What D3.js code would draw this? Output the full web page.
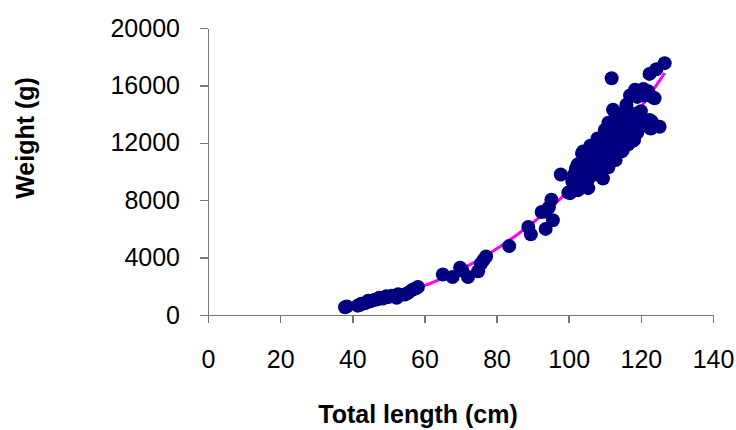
<html>
	<head>
		<script src="https://cdnjs.cloudflare.com/ajax/libs/d3/7.8.5/d3.min.js"></script>
		<style>
            body {
                margin: 0;
                background: white;
            }

            svg {
                font-family: "Liberation Sans", Arial, sans-serif;
            }

            .axis path, .axis line {
                stroke: #777;
                stroke-width: 1.5px;
                shape-rendering: crispEdges;
            }

            .axis text {
                font-size: 25px;
                fill: black;
            }

            .title {
                font-size: 25px;
                font-weight: bold;
                fill: black;
            }
		</style>
	</head>
	<body>
		<script type='text/javascript'>
            // fish total length (cm) and weight (g)
            var lengthCm = [
                38.0, 38.5, 41.5, 42.0, 42.5, 43.5, 44.4, 45.0, 46.0, 47.0, 47.5, 48.5, 49.4, 50.0, 51.0,
                52.3, 52.7, 53.5, 54.6, 55.5, 56.6, 57.5, 58.2,
                65.1, 67.8, 69.9, 70.5, 72.1, 74.9, 75.6, 76.3, 77.1,
                83.5, 88.8, 89.5, 92.5, 93.6, 93.4, 95.2, 95.6, 94.5,
                97.8, 99.9, 100.4, 102.6, 102.7, 103.7, 105.1, 105.4, 109.5,
                101.0, 101.5, 102.0, 102.0, 102.5, 103.0, 103.0, 103.5, 104.0, 104.0, 104.5, 105.0, 105.0, 105.5,
                106.0, 106.0, 106.5, 107.0, 107.0, 107.5, 108.0, 108.0, 108.0, 108.5, 109.0, 109.0, 109.5,
                110.0, 110.0, 110.0, 110.5, 111.0, 111.0, 111.5, 111.5, 112.0, 112.0, 112.0, 112.5, 112.5,
                113.0, 113.0, 113.5, 113.5, 114.0, 114.0, 114.0, 114.5, 114.5, 115.0, 115.0, 115.0, 115.5,
                116.0, 116.0, 116.0, 116.5, 117.0, 117.0, 117.0, 117.5, 118.0, 118.0, 118.5, 118.4, 119.0, 119.0,
                120.0, 120.7, 121.0, 122.0, 123.0, 123.8, 112.3, 116.0, 114.7, 118.1, 118.9, 122.4, 122.8, 125.2,
                122.5, 123.0, 122.4, 124.3, 126.6, 111.9,
                106.0, 108.0, 110.0, 111.0, 113.0, 111.0, 113.0, 115.0, 116.5, 117.5, 119.0, 119.5, 120.0
            ];
            var weightG = [
                536, 600, 650, 700, 780, 820, 1000, 950, 1050, 1100, 1200, 1150, 1300, 1250, 1350,
                1200, 1450, 1400, 1420, 1550, 1750, 1850, 1950,
                2820, 2650, 3300, 3100, 2650, 3050, 3550, 3800, 4080,
                4800, 6130, 5620, 7180, 6000, 7210, 8040, 6600, 7500,
                9790, 8530, 8490, 8700, 8950, 11260, 8930, 8840, 9510,
                9300, 9800, 10200, 9600, 10500, 9300, 10000, 9700, 10400, 11400, 9900, 10700, 10100, 9500,
                10300, 11000, 10000, 10600, 11200, 9800, 10900, 11500, 10400, 10200, 11000, 11700, 10600,
                11300, 12000, 10800, 11600, 12200, 11000, 12500, 11400, 12000, 12800, 11200, 12400, 13100,
                11800, 12700, 13300, 12200, 12900, 13600, 11900, 12600, 13800, 13200, 12300, 14000, 12900,
                13500, 12600, 14500, 13100, 13700, 12800, 15300, 13300, 12200, 14000, 13600, 15700, 13800, 15200,
                15500, 15750, 15300, 15600, 15230, 15100, 14300, 14650, 11400, 12190, 13840, 13590, 13000, 13120,
                13030, 13490, 16800, 17130, 17550, 16500,
                11800, 12300, 12900, 13400, 14000, 10300, 10800, 11500, 11900, 12100, 12700, 13400, 14200
            ];

            var xTicks = [0, 20, 40, 60, 80, 100, 120, 140];
            var yTicks = [0, 4000, 8000, 12000, 16000, 20000];

            var width = 736, height = 430;
            var plotLeft = 208, plotRight = 713, plotTop = 28, plotBottom = 315;

            var points = lengthCm.map((x, i) => ({ x: x, y: weightG[i] }));

            var svg = d3.select("body")
                .append("svg")
                .attr("width", width)
                .attr("height", height);

            var xScale = d3.scaleLinear().domain([0, 140]).range([plotLeft, plotRight]);
            var yScale = d3.scaleLinear().domain([0, 20000]).range([plotBottom, plotTop]);

            svg.append("g")
                .attr("class", "axis")
                .attr("transform", "translate(0," + plotBottom + ")")
                .call(d3.axisBottom(xScale).tickValues(xTicks).tickFormat(d3.format("d"))
                    .tickSize(8).tickSizeOuter(0).tickPadding(27));

            svg.append("g")
                .attr("class", "axis")
                .attr("transform", "translate(" + plotLeft + ",0)")
                .call(d3.axisLeft(yScale).tickValues(yTicks).tickFormat(d3.format("d"))
                    .tickSize(8).tickSizeOuter(0).tickPadding(20));

            // power trendline (least squares on log-log), like the spreadsheet one
            var lx = points.map(p => Math.log(p.x));
            var ly = points.map(p => Math.log(p.y));
            var mx = d3.mean(lx), my = d3.mean(ly);
            var b = d3.sum(lx, (v, i) => (v - mx) * (ly[i] - my)) / d3.sum(lx, v => (v - mx) * (v - mx));
            var a = Math.exp(my - b * mx);
            var xExtent = d3.extent(lengthCm);
            var trend = d3.range(xExtent[0], xExtent[1], 0.5).concat([xExtent[1]])
                .map(x => ({ x: x, y: a * Math.pow(x, b) }));

            svg.append("path")
                .datum(trend)
                .attr("fill", "none")
                .attr("stroke", "#ff00ff")
                .attr("stroke-width", 3)
                .attr("d", d3.line().x(d => xScale(d.x)).y(d => yScale(d.y)));

            svg.append("g")
                .selectAll("circle")
                .data(points)
                .enter()
                .append("circle")
                .attr("cx", d => xScale(d.x))
                .attr("cy", d => yScale(d.y))
                .attr("r", 7)
                .attr("fill", "#000080");

            svg.append("text")
                .attr("class", "title")
                .attr("x", 418)
                .attr("y", 423)
                .attr("text-anchor", "middle")
                .text("Total length (cm)");

            svg.append("text")
                .attr("class", "title")
                .attr("transform", "translate(34,138) rotate(-90)")
                .attr("text-anchor", "middle")
                .text("Weight (g)");
		</script>
	</body>
</html>
